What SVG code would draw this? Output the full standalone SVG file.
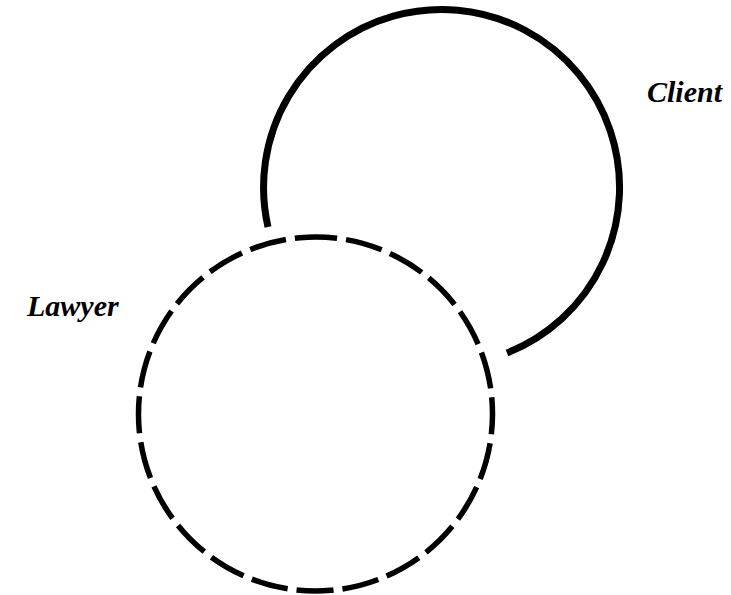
<svg xmlns="http://www.w3.org/2000/svg" width="731" height="595" viewBox="0 0 731 595">
<style>
.lbl{font-family:"Liberation Serif","Times New Roman",serif;font-weight:bold;font-style:italic;font-size:30px;fill:#000}
.solid{fill:none;stroke:#000;stroke-width:7}
.dash{fill:none;stroke:#000;stroke-width:5.5;stroke-dasharray:37.1 9}
</style>
<rect width="731" height="595" fill="#fff"/>
<g id="client">
<path class="solid" d="M268,227 A178,178 0 1 1 507,353"/>
<text class="lbl" x="647" y="102">Client</text>
</g>
<g id="lawyer">
<circle class="dash" cx="315.5" cy="414" r="177" transform="rotate(-95 315.5 414)"/>
<text class="lbl" x="27" y="316">Lawyer</text>
</g>
<g id="connectors"></g>
</svg>
